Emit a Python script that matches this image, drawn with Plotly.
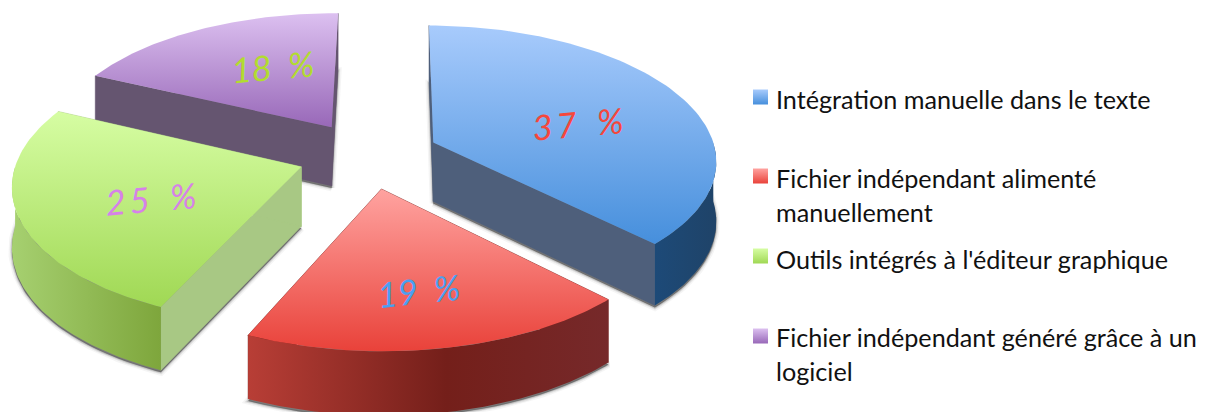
import numpy as np
import plotly.graph_objects as go

# ---- data ----
categories = ["Intégration manuelle dans le texte",
              "Fichier indépendant alimenté manuellement",
              "Outils intégrés à l'éditeur graphique",
              "Fichier indépendant généré grâce à un logiciel"]
values = [37, 19, 25, 18]
legend_lines = [["Intégration manuelle dans le texte"],
                ["Fichier indépendant alimenté", "manuellement"],
                ["Outils intégrés à l'éditeur graphique"],
                ["Fichier indépendant généré grâce à un", "logiciel"]]

# ---- style ----
top_grad = [("#a8cbfc", "#468fdc"), ("#ffa3a0", "#e9423a"), ("#d6fda3", "#a0d854"), ("#dcc0f0", "#9868b8")]
arc_grad = [[(0, "#1d4a78"), (1, "#1f4368")],
            [(0, "#b83e36"), (0.55, "#741f1a"), (1, "#76292a")],
            [(0, "#a6d070"), (1, "#7ea63c")],
            [(0, "#655570"), (1, "#655570")]]
cut_col = ["#4e5f7b", "#741f1a", "#a8c884", "#655570"]
label_col = ["#f5473c", "#4aa0f2", "#d682e8", "#b2dc30"]
label_pos = [(577, 123), (418, 290), (150, 198), (272, 66)]
label_rot = [-5, -6, -5, -5]
digit_gap = ["\u2009", "", "\u2009", ""]
legend_mark_y = [97, 176, 256, 336]
legend_text_y = [[99], [178, 212], [259], [337, 371]]

# projection of the exploded pie
CX, CY, A, B, K, H, E = 368.4, 155, 283.2, 134, 0.12, 59.3, 0.25
ROT = np.deg2rad(0.6)


def project(X, Y, z=0.0):
    s = 1 / (1 - K * Y)
    return CX + A * X * s, CY + B * Y * s + z * H * np.sqrt(s)


total = sum(values)
edges = np.concatenate([[0], np.cumsum(values)]) / total * 2 * np.pi + ROT
fig = go.Figure()


def poly(xs, ys, **kw):
    fig.add_trace(go.Scatter(x=list(xs), y=list(ys), mode="lines", fill="toself",
                             hoverinfo="skip", showlegend=False, **kw))


def grad(kind, stops):
    return dict(type=kind, colorscale=[[p, c] for p, c in stops])


for i in [3, 0, 2, 1]:
    a0, a1 = edges[i], edges[i + 1]
    m = (a0 + a1) / 2
    ox, oy = E * np.sin(m), -E * np.cos(m)
    t = np.linspace(a0, a1, 90)
    rx, ry = ox + np.sin(t), oy - np.cos(t)

    # soft shadow from the slice's base outline
    bx, by = project(np.r_[ox, rx, ox], np.r_[oy, ry, oy], 1)
    for w, al in [(7, 0.05), (4, 0.10), (2, 0.18)]:
        poly(bx, by + 2, fillcolor="rgba(70,70,70,0.3)",
             line=dict(color=f"rgba(60,60,60,{al})", width=w))

    # cut faces
    for ang in (a0, a1):
        ex, ey = ox + np.sin(ang), oy - np.cos(ang)
        x0, y0 = project(np.array([ox, ex]), np.array([oy, ey]), 0)
        x1, y1 = project(np.array([ox, ex]), np.array([oy, ey]), 1)
        poly(np.r_[x0, x1[::-1], x0[0]], np.r_[y0, y1[::-1], y0[0]],
             fillcolor=cut_col[i], line=dict(color=cut_col[i], width=0.5))

    # visible outer wall
    lo, hi = max(a0, np.pi / 2), min(a1, 3 * np.pi / 2)
    if hi > lo:
        w = np.linspace(lo, hi, 80)
        wx, wy = ox + np.sin(w), oy - np.cos(w)
        x0, y0 = project(wx, wy, 0)
        x1, y1 = project(wx, wy, 1)
        stops = arc_grad[i]
        poly(np.r_[x0, x1[::-1], x0[0]], np.r_[y0, y1[::-1], y0[0]],
             fillgradient=grad("horizontal", stops), line=dict(width=0))

    # top face (y axis is reversed, so the gradient runs bottom colour first)
    tx, ty = project(np.r_[ox, rx, ox], np.r_[oy, ry, oy], 0)
    poly(tx, ty, fillgradient=grad("vertical", [(0, top_grad[i][1]), (1, top_grad[i][0])]),
         line=dict(width=0))

annotations = []
for v, c, (lx, ly), r, g in zip(values, label_col, label_pos, label_rot, digit_gap):
    txt = g.join(str(v)) + "&nbsp;&nbsp;" + g + "%"
    annotations.append(dict(x=lx, y=ly, xref="x", yref="y", text=txt, showarrow=False,
                            textangle=r, font=dict(family="Lato", size=35, color=c, style="italic", weight=400)))

# legend
fig.add_trace(go.Scatter(
    x=[760.5] * 4, y=legend_mark_y, mode="markers", hoverinfo="skip", showlegend=False,
    marker=dict(symbol="square", size=15, line=dict(width=0), color=[g[0] for g in top_grad],
                gradient=dict(type="vertical", color=[g[1] for g in top_grad]))))
for lines, ys in zip(legend_lines, legend_text_y):
    for txt, y in zip(lines, ys):
        annotations.append(dict(x=773.5, y=y, xref="x", yref="y", text=txt, showarrow=False,
                                xanchor="left", yanchor="middle",
                                font=dict(family="Lato", size=25.2, color="#111111")))

fig.update_layout(
    width=1208, height=412, margin=dict(l=0, r=0, t=0, b=0, pad=0),
    paper_bgcolor="white", plot_bgcolor="white", showlegend=False,
    xaxis=dict(range=[0, 1208], visible=False, fixedrange=True),
    yaxis=dict(range=[412, 0], visible=False, fixedrange=True),
    annotations=annotations,
)
fig.write_html("out.html", config={"displayModeBar": False},
               post_script="document.body.style.margin='0';document.body.style.overflow='hidden';")
